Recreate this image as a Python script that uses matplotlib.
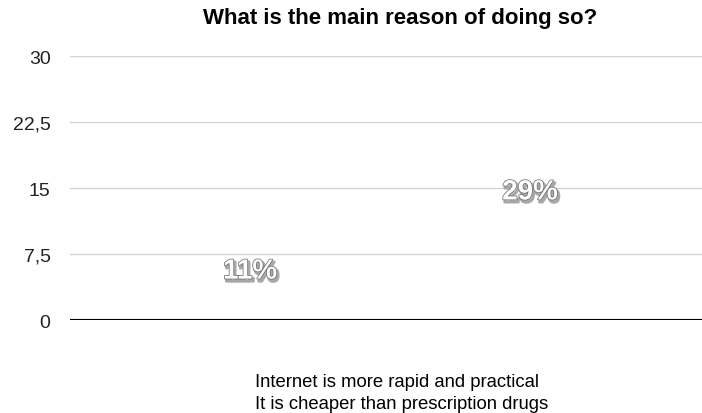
import matplotlib.pyplot as plt
import matplotlib.patheffects as pe
from matplotlib.patches import Patch
from matplotlib.ticker import FuncFormatter

plt.rcParams['font.family'] = ['Liberation Sans', 'DejaVu Sans']

title = 'What is the main reason of doing so?'
reasons = ['Internet is more rapid and practical',
           'It is cheaper than prescription drugs']
values = [11, 29]
yticks = [0, 7.5, 15, 22.5, 30]


def fmt(v, pos):
    s = ('%g' % v)
    return s.replace('.', ',')


fig = plt.figure(figsize=(7.02, 4.14), dpi=100)
ax = fig.add_axes([0.0997, 0.2246, 0.9003, 0.6374])

xs = [0, 1]
# bars are white on white, the grid shows through them
ax.bar(xs, values, width=0.6, color='white', alpha=0, zorder=1)

# percentage labels sit in the middle of each bar
for x, v in zip(xs, values):
    ax.text(x, v / 2, '%d%%' % v, ha='center', va='center',
            fontsize=20, fontweight='bold', color='white', zorder=5,
            path_effects=[
                pe.Stroke(linewidth=2.2, foreground='#a8a8a8', offset=(1.2, -1.8)),
                pe.Stroke(linewidth=1.1, foreground='#707070'),
                pe.Normal()])

ax.set_xlim(-0.643, 1.614)
ax.set_ylim(0, 30)
ax.set_yticks(yticks)
ax.yaxis.set_major_formatter(FuncFormatter(fmt))
ax.set_xticks([])
ax.tick_params(axis='y', length=0, pad=14, labelsize=14, labelcolor='#222222')
for s in ax.spines.values():
    s.set_visible(False)
ax.grid(axis='y', color='#d4d4d4', linewidth=1, zorder=2)
ax.axhline(0, color='black', linewidth=1.5, zorder=3)

fig.text(0.57, 0.955, title, ha='center', va='center',
         fontsize=16, fontweight='bold')

handles = [Patch(facecolor='white', edgecolor='white') for _ in reasons]
fig.legend(handles, reasons, loc='upper left', bbox_to_anchor=(0.327, 0.097),
           frameon=False, fontsize=13.3, handlelength=1, handletextpad=0.4,
           labelspacing=0.3, borderpad=0, borderaxespad=0)

fig.savefig('out.png', dpi=100)
